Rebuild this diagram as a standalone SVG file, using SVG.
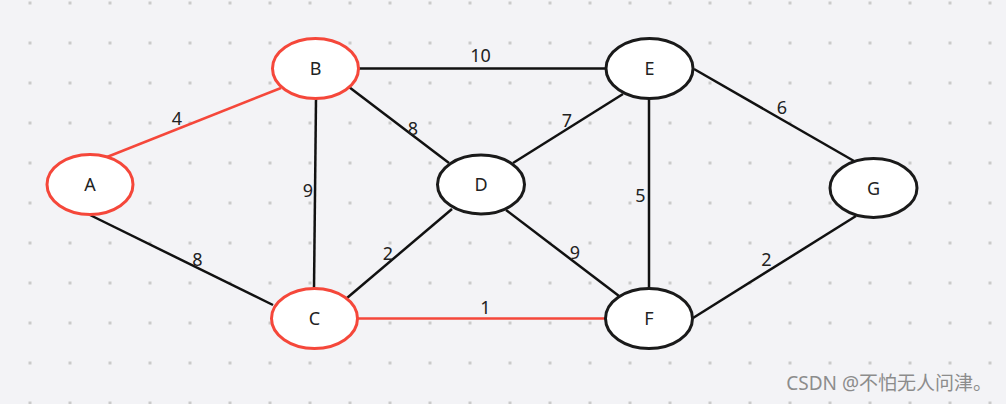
<svg xmlns="http://www.w3.org/2000/svg" width="1006" height="404" viewBox="0 0 1006 404">
<defs>
<pattern id="dots" x="28.5" y="1.5" width="40" height="40" patternUnits="userSpaceOnUse">
<rect x="0" y="0" width="3" height="3" fill="#cacaca"/>
</pattern>
<style>
.edge{stroke:#111;stroke-width:2.5;fill:none}
.edge.hl{stroke:#f5473a;stroke-width:2.5}
.node ellipse{fill:#fff;stroke:#1a1a1a;stroke-width:3}
.node.hl ellipse{stroke:#f5473a}
text{font-family:"Noto Sans","DejaVu Sans",sans-serif;fill:#222;text-anchor:middle}
.nl{font-size:18px}
.el{font-size:18px}
.wm{font-family:"Noto Sans","Noto Sans CJK SC",sans-serif;font-size:19px;fill:#8c8c8c;text-anchor:end}
</style>
</defs>
<rect width="1006" height="404" fill="#f3f3f6"/>
<rect width="1006" height="404" fill="url(#dots)"/>
<g id="connectors">
<line class="edge hl" x1="107" y1="157" x2="281" y2="88"/>
<line class="edge" x1="90" y1="215" x2="273" y2="305"/>
<line class="edge" x1="316" y1="99" x2="314" y2="289"/>
<line class="edge" x1="349" y1="87" x2="449" y2="163"/>
<line class="edge" x1="359" y1="68.5" x2="605" y2="68.5"/>
<line class="edge" x1="347" y1="298" x2="452" y2="209"/>
<line class="edge hl" x1="358" y1="318.5" x2="605" y2="318.5"/>
<line class="edge" x1="513" y1="163" x2="623" y2="94"/>
<line class="edge" x1="506" y1="210" x2="619" y2="296"/>
<line class="edge" x1="649" y1="99" x2="649" y2="288"/>
<line class="edge" x1="694" y1="69" x2="854" y2="161"/>
<line class="edge" x1="693" y1="318" x2="856" y2="216"/>
<text class="el" x="177" y="124.5">4</text>
<text class="el" x="197.5" y="266">8</text>
<text class="el" x="308" y="196.5">9</text>
<text class="el" x="413" y="134.5">8</text>
<text class="el" x="480.5" y="61.5">10</text>
<text class="el" x="388" y="259.5">2</text>
<text class="el" x="485.5" y="314">1</text>
<text class="el" x="567" y="126.5">7</text>
<text class="el" x="575" y="258.5">9</text>
<text class="el" x="640.5" y="201.5">5</text>
<text class="el" x="782" y="114">6</text>
<text class="el" x="766.5" y="266">2</text>
</g>
<g id="node-A" class="node hl"><ellipse cx="90" cy="184.5" rx="43" ry="30"/><text class="nl" x="90" y="191">A</text></g>
<g id="node-B" class="node hl"><ellipse cx="315.5" cy="68.5" rx="43" ry="30"/><text class="nl" x="315.5" y="75">B</text></g>
<g id="node-C" class="node hl"><ellipse cx="314.5" cy="318.5" rx="43" ry="30"/><text class="nl" x="314.5" y="325">C</text></g>
<g id="node-D" class="node"><ellipse cx="481" cy="184.5" rx="43.5" ry="29.5"/><text class="nl" x="481" y="191">D</text></g>
<g id="node-E" class="node"><ellipse cx="649.5" cy="68.5" rx="43.5" ry="30"/><text class="nl" x="649.5" y="75">E</text></g>
<g id="node-F" class="node"><ellipse cx="649" cy="318.5" rx="43.5" ry="30"/><text class="nl" x="649" y="325">F</text></g>
<g id="node-G" class="node"><ellipse cx="873.5" cy="188" rx="43.5" ry="29.5"/><text class="nl" x="873.5" y="194.5">G</text></g>
<text class="wm" x="992" y="390">CSDN @不怕无人问津。</text>
</svg>
